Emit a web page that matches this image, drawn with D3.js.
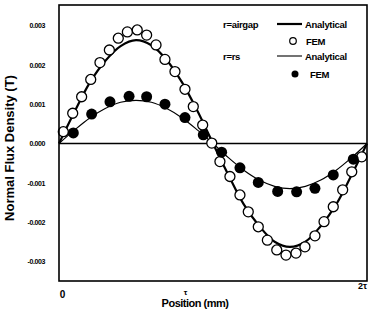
<!DOCTYPE html>
<html><head><meta charset="utf-8">
<script src="https://cdn.jsdelivr.net/npm/d3@7"></script>
<style>
body{margin:0;background:#fff;}
text{font-family:"Liberation Sans Narrow","Arial Narrow","Liberation Sans",Arial,sans-serif;font-weight:bold;fill:#000;}
</style></head>
<body><svg id="c" width="372" height="322"></svg>
<script>
// Positions in units of tau (0..2)
const analyticX = [0,0.1,0.2,0.3,0.4,0.5,0.6,0.7,0.8,0.9,1.0,1.1,1.2,1.3,1.4,1.5,1.6,1.7,1.8,1.9,2.0];
const airgapAnalytical = [0,0.0008,0.00155,0.0021,0.00248,0.00263,0.0025,0.00212,0.00155,0.00082,0,-0.0008,-0.00155,-0.0021,-0.0025,-0.00263,-0.0025,-0.0021,-0.00155,-0.0008,0];
const rsAnalytical = [0,0.00034,0.00065,0.00089,0.00105,0.0011,0.00105,0.00089,0.00065,0.00034,0,-0.00036,-0.00068,-0.00093,-0.00109,-0.00115,-0.00109,-0.00093,-0.00068,-0.00036,0];
const airgapFemX = [0.028,0.089,0.147,0.206,0.266,0.327,0.385,0.444,0.508,0.569,0.630,0.688,0.753,0.818,0.872,0.933,0.992,1.045,1.110,1.175,1.229,1.294,1.353,1.414,1.474,1.539,1.597,1.662,1.721,1.781,1.842,1.901,1.966];
const airgapFem = [0.00030,0.00077,0.00119,0.00163,0.00206,0.00238,0.00268,0.00284,0.00289,0.00276,0.00251,0.00214,0.00183,0.00138,0.00094,0.00047,0.00001,-0.00046,-0.00084,-0.00131,-0.00174,-0.00212,-0.00246,-0.00271,-0.00284,-0.00279,-0.00263,-0.00235,-0.00199,-0.00161,-0.00118,-0.00072,-0.00034];
const rsFemX = [0.093,0.212,0.331,0.455,0.569,0.688,0.818,0.937,1.056,1.175,1.294,1.420,1.543,1.662,1.781,1.911];
const rsFem = [0.00027,0.00075,0.00106,0.00120,0.00119,0.00100,0.00066,0.00022,-0.00022,-0.00062,-0.00099,-0.00122,-0.00123,-0.00114,-0.00080,-0.00040];
const yTicks = [0.003,0.002,0.001,0,-0.001,-0.002,-0.003];
const xTicks = [0,1,2];
const xTickLabels = ["0","τ","2τ"];

const svg = d3.select("#c");
const L=59,R=367,T=6,B=281;
const x = d3.scaleLinear().domain([0,2]).range([L,R]);
const y = d3.scaleLinear().domain([-0.0035,0.0035]).range([B,T]);

// zero line
svg.append("line").attr("x1",L).attr("x2",R).attr("y1",y(0)).attr("y2",y(0))
  .attr("stroke","#000").attr("stroke-width",1.6);

const line = d3.line().x(d=>x(d[0])).y(d=>y(d[1])).curve(d3.curveCatmullRom);
svg.append("path").datum(analyticX.map((v,i)=>[v,airgapAnalytical[i]]))
  .attr("d",line).attr("fill","none").attr("stroke","#000").attr("stroke-width",2.2);
svg.append("path").datum(analyticX.map((v,i)=>[v,rsAnalytical[i]]))
  .attr("d",line).attr("fill","none").attr("stroke","#000").attr("stroke-width",1.2);

svg.append("g").selectAll("circle").data(airgapFemX.map((v,i)=>[v,airgapFem[i]])).join("circle")
  .attr("cx",d=>x(d[0])).attr("cy",d=>y(d[1])).attr("r",5)
  .attr("fill","#fff").attr("stroke","#000").attr("stroke-width",1.3);
svg.append("g").selectAll("circle").data(rsFemX.map((v,i)=>[v,rsFem[i]])).join("circle")
  .attr("cx",d=>x(d[0])).attr("cy",d=>y(d[1])).attr("r",5.5)
  .attr("fill","#000");

// frame
svg.append("rect").attr("x",L).attr("y",T-1).attr("width",R-L).attr("height",B-T+1)
  .attr("fill","none").attr("stroke","#000").attr("stroke-width",1.6);

// y axis
const ya = svg.append("g").attr("transform",`translate(${L},0)`)
  .call(d3.axisLeft(y).tickValues(yTicks).tickSize(0).tickPadding(14)
  .tickFormat(d=>d3.format(".3f")(d).replace("\u2212","-")));
ya.select(".domain").remove();
ya.selectAll("text").style("font-size","7px").style("font-family",null).attr("letter-spacing","-0.4");

// x axis
const xa = svg.append("g").attr("transform",`translate(0,${B})`)
  .call(d3.axisBottom(x).tickValues(xTicks).tickSize(0).tickPadding(6)
  .tickFormat((d,i)=>xTickLabels[i]));
xa.select(".domain").remove();
const dxs=[3,-28,-5], dys=[4,2,-4], fs=[10,8,9];
xa.selectAll("text").style("font-family",null)
  .style("font-size",(d,i)=>fs[i]+"px")
  .attr("dx",(d,i)=>dxs[i]).attr("dy",(d,i)=>(0.71*fs[i]+dys[i])+"px");

// titles
svg.append("text").attr("transform","translate(14,148) rotate(-90)")
  .attr("text-anchor","middle").style("font-size","13px").style("font-family","'Liberation Sans',Arial,sans-serif")
  .text("Normal Flux Density (T)");
svg.append("text").attr("x",195).attr("y",307).attr("text-anchor","middle")
  .style("font-size","11px").attr("letter-spacing","-0.5").style("font-family","'Liberation Sans',Arial,sans-serif")
  .text("Position (mm)");

// legend
const lg = svg.append("g").style("font-size","9.5px").attr("letter-spacing","-0.3");
lg.append("text").attr("x",223).attr("y",28).text("r=airgap");
lg.append("line").attr("x1",277).attr("x2",302).attr("y1",24).attr("y2",24).attr("stroke","#000").attr("stroke-width",2.2);
lg.append("text").attr("x",305).attr("y",28).text("Analytical");
lg.append("circle").attr("cx",293).attr("cy",41).attr("r",3.3).attr("fill","#fff").attr("stroke","#000").attr("stroke-width",1.2);
lg.append("text").attr("x",306).attr("y",45).text("FEM");
lg.append("text").attr("x",223).attr("y",60).text("r=rs");
lg.append("line").attr("x1",277).attr("x2",302).attr("y1",56).attr("y2",56).attr("stroke","#000").attr("stroke-width",1.1);
lg.append("text").attr("x",305).attr("y",60).text("Analytical");
lg.append("circle").attr("cx",295).attr("cy",74).attr("r",3.5).attr("fill","#000");
lg.append("text").attr("x",310).attr("y",78).text("FEM");
</script></body></html>
